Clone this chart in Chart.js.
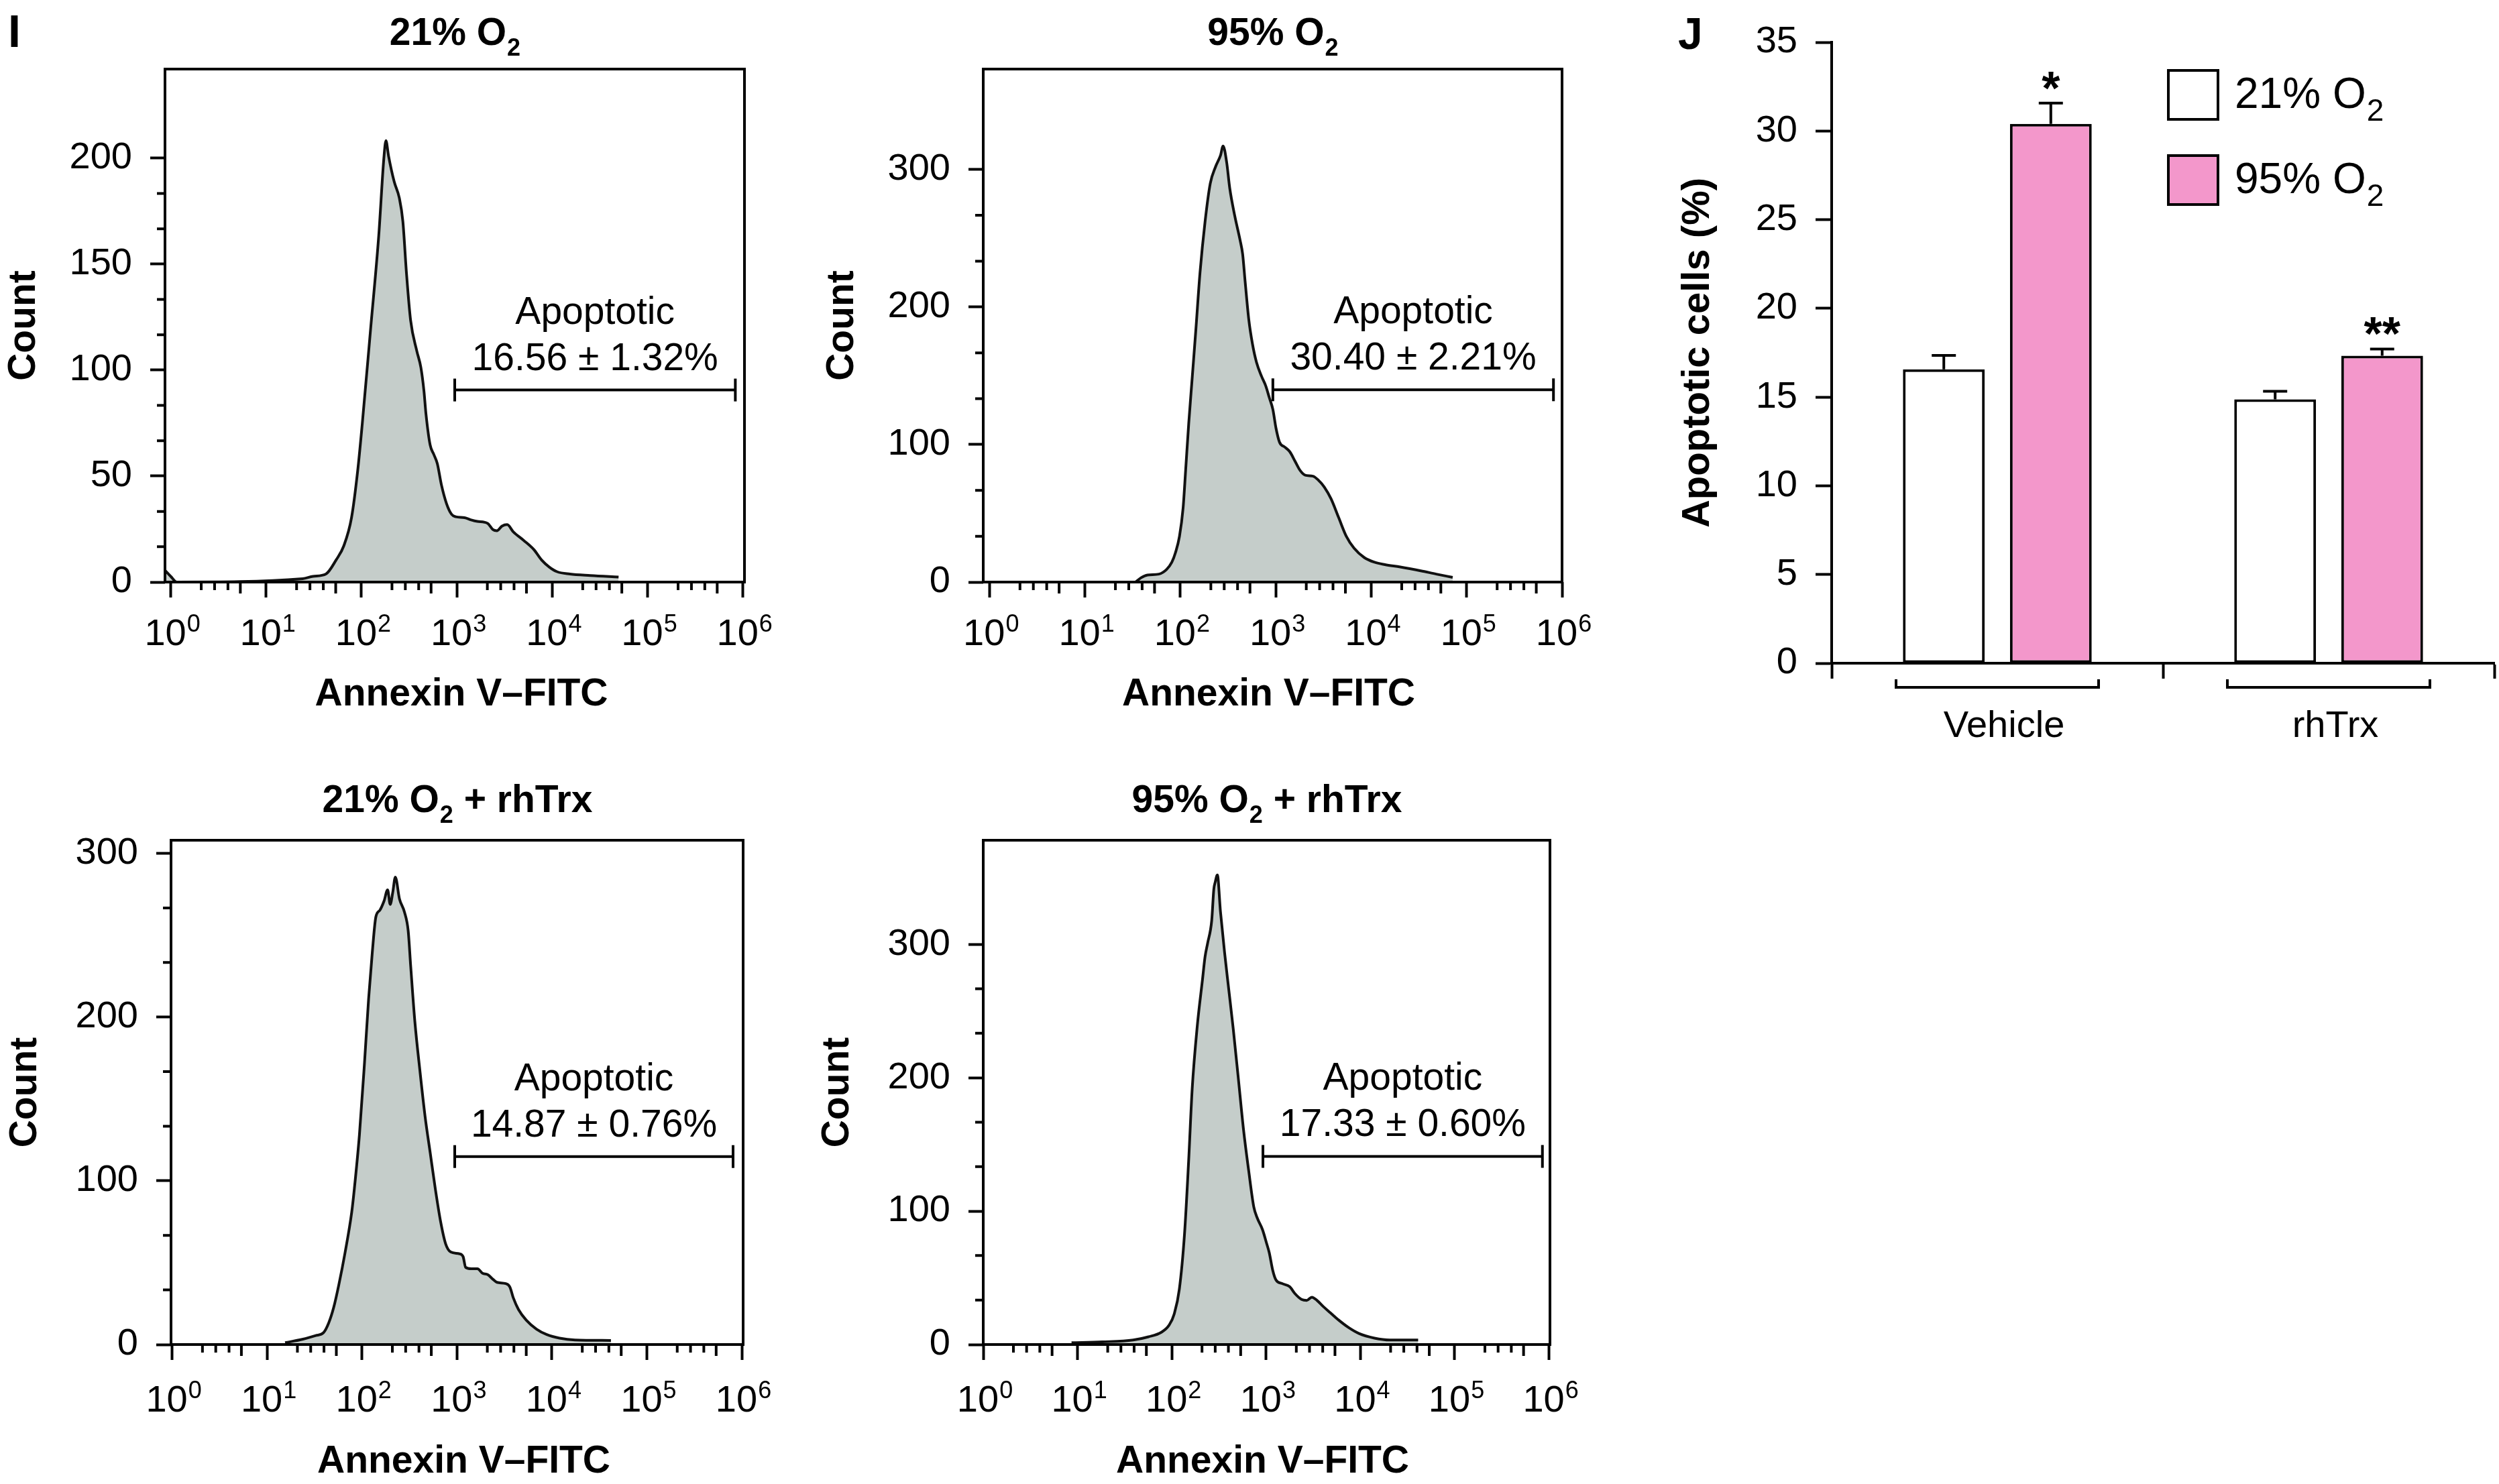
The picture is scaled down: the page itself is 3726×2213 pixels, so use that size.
<!DOCTYPE html>
<html><head><meta charset="utf-8">
<script src="https://cdn.jsdelivr.net/npm/chart.js@4.4.1/dist/chart.umd.min.js"></script>
<style>
html,body{margin:0;padding:0;background:#fff;}
#wrap{position:relative;width:3726px;height:2213px;background:#fff;overflow:hidden;}
canvas{position:absolute;}
</style></head><body><div id="wrap"></div>
<script>
// ---------------- DATA ----------------
// Histogram 21% O2 (x = Annexin V-FITC intensity, y = count)
const o21X = [0.873,1.0,1.16,24.2,31.0,42.4,54.2,65.3,78.7,91.3,102,124.5,151.8,171.8,180.7,192.2,220.3,249.4,271.8,296.5,327.5,380,419.6,452,475,524.8,572.5,624,689,780,883,975,1205,1415,1641,2104,2383,2630,2979,3373,3910,5012,6427,7745,9311,11220,15310,25120,49660];
const o21Y = [5.5,2.7,0,1.6,2.7,3.8,10.4,17.1,30.4,52.5,74.7,119,163.4,200,208.2,201.1,188.9,181.2,170.1,145.7,123.5,109.1,101.3,90.2,79.2,64.7,60.3,55.9,45.9,37.0,31.9,30.8,30.4,29.3,28.6,27.7,24.8,24.2,26.4,27.1,23.7,19.7,15.3,10.4,7.1,4.9,3.8,3.1,2.4];
// Histogram 95% O2
const o95X = [34.0,38.7,45.4,59.7,71.9,81.5,88.8,98,106.9,113.7,122.5,133.6,145.6,160.8,182,206,233.2,264,280.8,306,329.6,373,422.7,449.8,478.6,522.4,569,628.5,711.2,785.2,856.4,933.3,1006,1097,1242,1406,1592,1803,2037,2455,2780,3228,3793,4563,5495,6622,8472,10860,13930,20180,33110,48080,71450];
const o95Y = [0,3.1,5.1,5.8,9.2,14.4,21.2,33.2,53.7,81.1,115.3,149.5,183.7,224.8,262.4,289.8,301.7,310.3,317.1,305.2,286.4,265.9,248.7,238.5,218,190.6,173.5,159.8,149.5,142.7,134.1,125.5,111.9,101.6,98.2,94.7,87.9,81.1,77.7,77,74.3,69.1,60.6,46.9,33.2,24.6,17.8,14.4,12.7,11,8.2,5.8,3.4];
// Histogram 21% O2 + rhTrx
const o21TrxX = [15.5,23.9,32.6,39.3,44.5,50.4,57.1,66.3,78,83,94,106.4,117.5,128.2,139.9,154.5,170.6,186.2,198.2,211,224.5,248.2,281,306.5,326.3,360.4,408.3,462.4,523.6,592.9,671.4,760.3,861,1064,1161,1236,1416,1644,1862,2109,2388,2640,3265,3606,3936,4457,5370,6887,8831,12050,17500,41880];
const o21TrxY = [1.1,3.3,5.5,7.2,13.0,22.7,36.6,56.0,80.9,94.8,128.1,172.4,211.3,239,261.1,265.3,270.8,277.7,268.8,276.2,285.5,272.2,263.9,252.8,230.6,197.3,166.8,139.1,116.9,94.8,75.4,61.5,56.5,55.4,53.7,47.1,46.3,46.3,43.5,42.7,39.9,38.0,37.2,35.2,28.3,21.3,14.9,9.4,6.1,3.9,2.8,2.5];
// Histogram 95% O2 + rhTrx
const o95TrxX = [8.64,18.3,38.9,56.6,77.4,93.5,106,120.2,136.2,150.6,164.4,186.4,211.3,224.9,239.4,264.8,278.6,289.1,304,327.6,362.2,400.5,448.7,508.6,575.6,652.9,739.9,807.6,915.5,1012,1078,1178,1269,1475,1779,2018,2374,2693,3053,3459,4019,4853,5860,7529,9677,14090,20510,40930];
const o95TrxY = [1.4,2.0,3.4,5.8,9.2,14.5,22.9,41.6,82.5,137,191.6,239.3,273.4,290.5,300.7,317.8,341.1,346.9,352,324.8,294.1,266.8,236.1,198.6,161.1,130.4,103.1,94.6,86.1,75.8,69,55.3,48.5,45.7,43.3,38.2,33.8,33.1,35.5,33.1,28.6,23.5,18.4,12.6,8.2,4.8,3.4,3.4];

const histTitles = ['21% O₂', '95% O₂', '21% O₂ + rhTrx', '95% O₂ + rhTrx'];
const yTicks21 = [0,50,100,150,200];
const yTicks95 = [0,100,200,300];
const yTicks21Trx = [0,100,200,300];
const yTicks95Trx = [0,100,200,300];
const yMaxes = [242, 373, 308, 378];
const xLogRanges = [[-0.06, 6.016], [-0.065, 6.0], [-0.011, 6.014], [0, 6.01]];
const decadeTicks = [1,10,100,1000,10000,100000,1000000];
const gateRanges = [[951, 832000], [933, 813000], [948, 809000], [925, 851000]];
const gateCounts = [90.6, 139.8, 114.8, 141];
const apoMean = [16.56, 30.40, 14.87, 17.33];
const apoSD = [1.32, 2.21, 0.76, 0.60];

// Bar chart J
const groups = ['Vehicle', 'rhTrx'];
const seriesNames = ['21% O₂', '95% O₂'];
const bar21 = [16.56, 14.87];
const bar95 = [30.40, 17.33];
const err21 = [0.79, 0.46];
const err95 = [1.17, 0.38];
const sig21 = ['', ''];
const sig95 = ['*', '**'];
const jTicks = [0,5,10,15,20,25,30,35];

// ---------------- STYLE / LAYOUT ----------------
const FAM = "'Liberation Sans', Arial, Helvetica, sans-serif";
const FILL = '#c5cdca';
const PINK = '#f397cb';
Chart.defaults.font.family = FAM;
Chart.defaults.color = '#000';
const wrap = document.getElementById('wrap');

function drawSub(ctx, text, x, y, size, bold, subSize, drop, align) {
  const w = bold ? 'bold ' : '';
  const parts = text.split('₂');
  ctx.font = w + size + 'px ' + FAM;
  const w0 = ctx.measureText(parts[0]).width;
  const w2 = parts.length > 1 ? ctx.measureText(parts[1]).width : 0;
  ctx.font = w + subSize + 'px ' + FAM;
  const ws = parts.length > 1 ? ctx.measureText('2').width : 0;
  const total = w0 + ws + w2;
  let sx = align === 'left' ? x : x - total / 2;
  ctx.textAlign = 'left'; ctx.textBaseline = 'alphabetic';
  ctx.font = w + size + 'px ' + FAM; ctx.fillText(parts[0], sx, y);
  if (parts.length > 1) {
    ctx.font = w + subSize + 'px ' + FAM; ctx.fillText('2', sx + w0 + 1, y + drop);
    ctx.font = w + size + 'px ' + FAM; ctx.fillText(parts[1], sx + w0 + ws + 1, y);
  }
}

const MINOR_FRACS = [0.32, 0.46, 0.60, 0.73];

function histPlugin(p) {
  return {
    id: 'histdeco',
    afterDatasetsDraw(chart) {
      const {ctx, chartArea: a, scales: {x, y}} = chart;
      ctx.save();
      ctx.strokeStyle = '#000'; ctx.fillStyle = '#000'; ctx.lineWidth = 4; ctx.lineCap = 'butt';
      ctx.strokeRect(a.left, a.top, a.right - a.left, a.bottom - a.top);
      // minor y ticks
      const st = p.yTicks[1] - p.yTicks[0];
      const last = p.yTicks[p.yTicks.length - 1];
      const nMinor = Math.round(3 * last / st);
      ctx.beginPath();
      for (let k = 1; k < nMinor; k++) {
        if (k % 3 === 0) continue;
        const py = y.getPixelForValue(k * st / 3);
        ctx.moveTo(a.left - 12, py); ctx.lineTo(a.left, py);
      }
      ctx.stroke();
      // minor x ticks
      for (let d = 0; d < 6; d++) {
        MINOR_FRACS.forEach((f, i) => {
          const px = x.getPixelForValue(Math.pow(10, d + f));
          ctx.beginPath(); ctx.moveTo(px, a.bottom); ctx.lineTo(px, a.bottom + (i === 3 ? 17 : 12)); ctx.stroke();
        });
      }
      // x tick labels 10^n
      decadeTicks.forEach((v, d) => {
        const px = x.getPixelForValue(v);
        ctx.font = '56px ' + FAM; const w1 = ctx.measureText('10').width;
        ctx.font = '36px ' + FAM; const w2 = ctx.measureText(String(d)).width;
        const sx = px - (w1 + w2) / 2 + 2;
        ctx.textAlign = 'left'; ctx.textBaseline = 'alphabetic';
        ctx.font = '56px ' + FAM; ctx.fillText('10', sx, a.bottom + p.xlabOff);
        ctx.font = '36px ' + FAM; ctx.fillText(String(d), sx + w1 + 1, a.bottom + p.xlabOff - 20);
      });
      const cx = (a.left + a.right) / 2;
      // x title
      ctx.textAlign = 'center'; ctx.textBaseline = 'alphabetic';
      ctx.font = 'bold 57px ' + FAM;
      ctx.fillText('Annexin V–FITC', cx + p.xtDx, a.bottom + p.xtitleOff);
      // y title
      ctx.save();
      ctx.translate(a.left - p.countOff, (a.top + a.bottom) / 2);
      ctx.rotate(-Math.PI / 2);
      ctx.fillText('Count', 0, 0);
      ctx.restore();
      // panel title
      drawSub(ctx, p.title, cx, a.top - p.titleOff, 57, true, 36, 16, 'center');
      // gate annotation
      const g0 = x.getPixelForValue(p.gate[0]), g1 = x.getPixelForValue(p.gate[1]);
      const gy = y.getPixelForValue(p.gateY);
      const gcx = (g0 + g1) / 2;
      ctx.font = '57px ' + FAM; ctx.textAlign = 'center';
      ctx.fillText('Apoptotic', gcx, gy - 99);
      ctx.fillText(p.mean.toFixed(2) + ' ± ' + p.sd.toFixed(2) + '%', gcx, gy - 30);
      // panel letter
      if (p.letter) {
        ctx.font = 'bold 68px ' + FAM; ctx.textAlign = 'left';
        ctx.fillText(p.letter, p.letterPos[0] - p.canvasLeft, p.letterPos[1] - p.canvasTop);
      }
      ctx.restore();
    }
  };
}

function makeHist(p) {
  const padL = 246, padT = 103, padR = 60, padB = 205;
  const W = (p.frame[2] - p.frame[0]) + padL + padR;
  const H = (p.frame[3] - p.frame[1]) + padT + padB;
  p.canvasLeft = p.frame[0] - padL; p.canvasTop = p.frame[1] - padT;
  const c = document.createElement('canvas');
  c.width = W; c.height = H;
  c.style.left = p.canvasLeft + 'px'; c.style.top = p.canvasTop + 'px';
  c.style.width = W + 'px'; c.style.height = H + 'px';
  wrap.appendChild(c);
  new Chart(c, {
    type: 'line',
    data: { datasets: [
      { data: p.xs.map((v, i) => ({x: v, y: p.ys[i]})), borderColor: '#111', borderWidth: 4,
        backgroundColor: FILL, fill: 'origin', pointRadius: 0, cubicInterpolationMode: 'monotone', order: 1 },
      { data: [{x: p.gate[0], y: p.gateY}, {x: p.gate[1], y: p.gateY}], borderColor: '#000', borderWidth: 4,
        fill: false, pointStyle: 'line', pointRotation: 90, pointRadius: 17, pointHoverRadius: 17,
        pointBorderWidth: 4, pointBorderColor: '#000', order: 0 }
    ]},
    options: {
      responsive: false, maintainAspectRatio: false, animation: false, devicePixelRatio: 1, events: [],
      layout: { padding: { left: 0, top: padT, right: padR, bottom: 0 } },
      plugins: { legend: { display: false }, tooltip: { enabled: false } },
      scales: {
        x: { type: 'logarithmic', min: Math.pow(10, p.xLog[0]), max: Math.pow(10, p.xLog[1]),
             afterBuildTicks: s => { s.ticks = decadeTicks.map(v => ({value: v})); },
             afterFit: s => { s.height = padB; },
             ticks: { display: false },
             grid: { display: true, drawOnChartArea: false, drawTicks: true, tickLength: 23, tickWidth: 4, tickColor: '#000' },
             border: { display: false } },
        y: { type: 'linear', min: 0, max: p.yMax,
             afterBuildTicks: s => { s.ticks = p.yTicks.map(v => ({value: v})); },
             afterFit: s => { s.width = padL; },
             ticks: { font: { size: 56 }, padding: 27, color: '#000' },
             grid: { display: true, drawOnChartArea: false, drawTicks: true, tickLength: 22, tickWidth: 4, tickColor: '#000' },
             border: { display: false } }
      }
    },
    plugins: [histPlugin(p)]
  });
}

const panels = [
  { xs: o21X, ys: o21Y, yTicks: yTicks21, frame: [246, 103, 1110, 868], top: true, letter: 'I', letterPos: [12, 70] },
  { xs: o95X, ys: o95Y, yTicks: yTicks95, frame: [1466, 103, 2329, 868], top: true },
  { xs: o21TrxX, ys: o21TrxY, yTicks: yTicks21Trx, frame: [255, 1253, 1108, 2005], top: false },
  { xs: o95TrxX, ys: o95TrxY, yTicks: yTicks95Trx, frame: [1466, 1253, 2311, 2005], top: false }
];
panels.forEach((p, i) => {
  p.title = histTitles[i]; p.yMax = yMaxes[i]; p.xLog = xLogRanges[i];
  p.gate = gateRanges[i]; p.gateY = gateCounts[i]; p.mean = apoMean[i]; p.sd = apoSD[i];
  p.xlabOff = p.top ? 94 : 100; p.xtitleOff = p.top ? 184 : 191;
  p.countOff = p.top ? 194 : 201; p.titleOff = p.top ? 36 : 42;
  p.xtDx = (i % 2 === 0) ? 10 : -6;
  makeHist(p);
});

// ---------------- BAR CHART J ----------------
(function () {
  const left = 2480, top = 0, W = 3726 - 2480, H = 1150;
  const padL = 251, padT = 63, padR = 7, padB = 161;
  const c = document.createElement('canvas');
  c.width = W; c.height = H; c.style.left = left + 'px'; c.style.top = top + 'px';
  c.style.width = W + 'px'; c.style.height = H + 'px';
  wrap.appendChild(c);
  const errs = [err21, err95], sigs = [sig21, sig95];
  const jPlugin = {
    id: 'jdeco',
    afterDatasetsDraw(chart) {
      const {ctx, chartArea: a, scales: {x, y}} = chart;
      ctx.save();
      ctx.strokeStyle = '#000'; ctx.fillStyle = '#000'; ctx.lineWidth = 4; ctx.lineCap = 'butt';
      // error bars and significance marks
      chart.data.datasets.forEach((ds, di) => {
        const meta = chart.getDatasetMeta(di);
        meta.data.forEach((bar, j) => {
          const v = ds.data[j], e = errs[di][j];
          const ty = y.getPixelForValue(v + e);
          ctx.beginPath();
          ctx.moveTo(bar.x, bar.y); ctx.lineTo(bar.x, ty);
          ctx.moveTo(bar.x - 18, ty); ctx.lineTo(bar.x + 18, ty);
          ctx.stroke();
          const s = sigs[di][j];
          if (s) {
            ctx.font = 'bold 70px ' + FAM; ctx.textAlign = 'center'; ctx.textBaseline = 'alphabetic';
            ctx.fillText(s, bar.x, ty + 2);
          }
        });
      });
      // group brackets
      const m0 = chart.getDatasetMeta(0), m1 = chart.getDatasetMeta(1);
      groups.forEach((g, j) => {
        const cx = (m0.data[j].x + m1.data[j].x) / 2;
        ctx.beginPath();
        ctx.moveTo(cx - 151, a.bottom + 24); ctx.lineTo(cx - 151, a.bottom + 36);
        ctx.lineTo(cx + 151, a.bottom + 36); ctx.lineTo(cx + 151, a.bottom + 24);
        ctx.stroke();
      });
      // legend
      const fills = ['#ffffff', PINK];
      const boxTops = [a.top + 40, a.top + 167];
      seriesNames.forEach((nm, i) => {
        const bx = a.left + 500, by = boxTops[i];
        ctx.fillStyle = fills[i]; ctx.fillRect(bx, by, 78, 77);
        ctx.strokeRect(bx + 2, by + 2, 74, 73);
        ctx.fillStyle = '#000';
        drawSub(ctx, nm, a.left + 601, by + 58, 64, false, 46, 19, 'left');
      });
      // y title
      ctx.save();
      ctx.font = 'bold 58px ' + FAM; ctx.textAlign = 'center'; ctx.textBaseline = 'alphabetic';
      ctx.translate(a.left - 183, (a.top + a.bottom) / 2);
      ctx.rotate(-Math.PI / 2);
      ctx.fillText('Apoptotic cells (%)', 0, 0);
      ctx.restore();
      // panel letter
      ctx.font = 'bold 66px ' + FAM; ctx.textAlign = 'left';
      ctx.fillText('J', 2502 - left, 73 - top);
      ctx.restore();
    }
  };
  new Chart(c, {
    type: 'bar',
    data: { labels: groups, datasets: [
      { label: seriesNames[0], data: bar21, backgroundColor: '#ffffff', borderColor: '#000', borderWidth: 4, borderSkipped: false },
      { label: seriesNames[1], data: bar95, backgroundColor: PINK, borderColor: '#000', borderWidth: 4, borderSkipped: false }
    ]},
    options: {
      responsive: false, maintainAspectRatio: false, animation: false, devicePixelRatio: 1, events: [],
      datasets: { bar: { categoryPercentage: 0.646, barPercentage: 0.764 } },
      layout: { padding: { left: 0, top: padT, right: padR, bottom: 0 } },
      plugins: { legend: { display: false }, tooltip: { enabled: false } },
      scales: {
        x: { afterFit: s => { s.height = padB; },
             ticks: { font: { size: 56 }, padding: 38, labelOffset: 10, color: '#000' },
             grid: { display: true, offset: true, drawOnChartArea: false, drawTicks: true, tickLength: 23, tickWidth: 4, tickColor: '#000' },
             border: { display: true, width: 4, color: '#000' } },
        y: { min: 0, max: 35,
             afterBuildTicks: s => { s.ticks = jTicks.map(v => ({value: v})); },
             afterFit: s => { s.width = padL; },
             ticks: { font: { size: 56 }, padding: 27, color: '#000' },
             grid: { display: true, drawOnChartArea: false, drawTicks: true, tickLength: 24, tickWidth: 4, tickColor: '#000' },
             border: { display: true, width: 4, color: '#000' } }
      }
    },
    plugins: [jPlugin]
  });
})();
</script>
</body></html>
